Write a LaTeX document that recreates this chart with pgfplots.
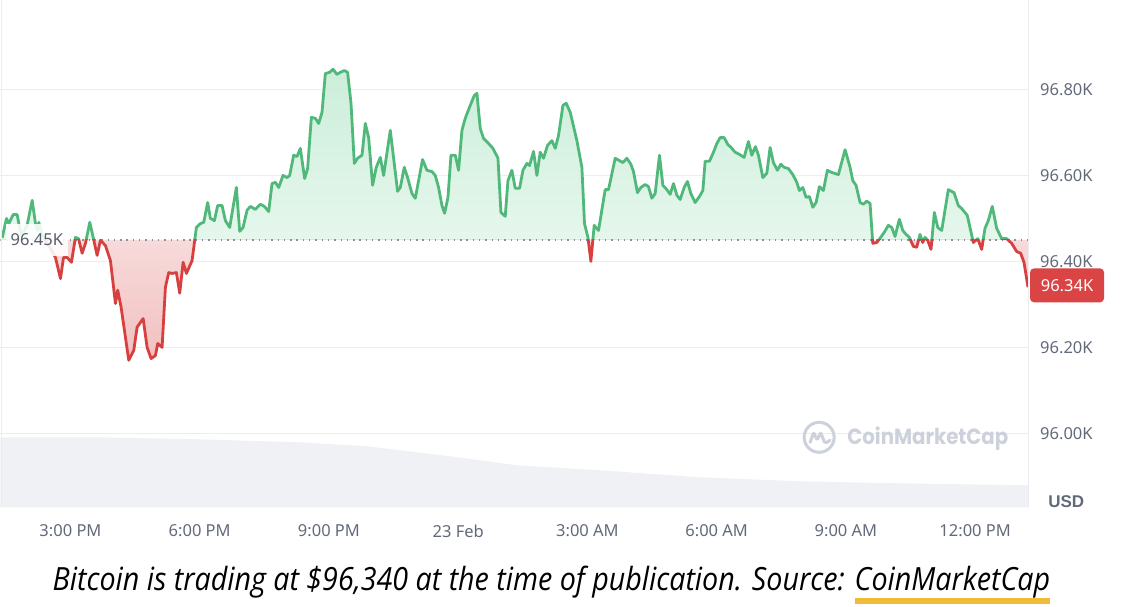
\documentclass[border=0pt]{standalone}
\usepackage{fontspec}
\usepackage{graphicx}
\usepackage{pgfplots}
\usepackage{pgfplotstable}
\pgfplotsset{compat=1.18}

\newfontfamily\tickfont{Noto Sans}
\newfontfamily\usdfont{Liberation Sans}
\newfontfamily\capfont{Open Sans}
\newfontfamily\wmfont{Poppins}
\newcommand\tf{\tickfont\fontsize{16.5bp}{19bp}\selectfont}

\definecolor{gline}{RGB}{80,184,122}
\definecolor{rline}{RGB}{216,64,64}
\definecolor{gtop}{RGB}{204,238,218}
\definecolor{gbot}{RGB}{248,253,250}
\definecolor{rbot}{RGB}{242,192,192}
\definecolor{gridc}{RGB}{236,237,241}
\definecolor{labc}{RGB}{98,106,122}
\definecolor{volc}{RGB}{240,241,245}
\definecolor{badgec}{RGB}{218,68,68}
\definecolor{wmc}{RGB}{204,209,220}
\definecolor{ulc}{RGB}{240,188,56}
\definecolor{dotc}{RGB}{140,145,155}

% time in hours from 22 Feb 00:00, price in USD
\pgfplotstableread{
t p
13.415 96455
13.515 96500
13.569 96488
13.671 96509
13.763 96509
13.801 96488
13.863 96460
13.933 96472
14.002 96488
14.111 96542
14.188 96488
14.234 96472
14.265 96491
14.327 96467
14.420 96449
14.536 96430
14.652 96409
14.768 96360
14.838 96409
14.923 96409
15.023 96398
15.116 96456
15.186 96453
15.271 96419
15.348 96442
15.448 96491
15.527 96456
15.619 96414
15.696 96449
15.812 96437
15.928 96402
16.044 96302
16.097 96333
16.176 96293
16.353 96170
16.469 96193
16.547 96247
16.687 96267
16.779 96200
16.872 96174
16.972 96181
17.025 96209
17.127 96200
17.204 96340
17.281 96374
17.359 96372
17.459 96374
17.536 96326
17.615 96398
17.691 96372
17.823 96402
17.923 96479
18.016 96488
18.093 96491
18.185 96537
18.248 96500
18.341 96495
18.417 96530
18.519 96530
18.596 96495
18.696 96479
18.851 96572
18.928 96470
19.007 96479
19.099 96519
19.176 96528
19.292 96521
19.408 96533
19.501 96528
19.601 96516
19.679 96581
19.756 96584
19.833 96572
19.935 96600
20.027 96595
20.088 96600
20.181 96647
20.259 96644
20.336 96663
20.436 96593
20.505 96616
20.591 96735
20.684 96733
20.761 96721
20.839 96747
20.916 96837
21.016 96840
21.095 96847
21.187 96835
21.264 96840
21.357 96844
21.433 96840
21.512 96768
21.589 96628
21.665 96640
21.767 96647
21.844 96721
21.921 96688
22.013 96577
22.099 96619
22.192 96642
22.269 96600
22.424 96705
22.593 96563
22.656 96572
22.749 96619
22.825 96595
22.927 96558
23.004 96547
23.081 96588
23.173 96637
23.275 96612
23.391 96609
23.468 96600
23.545 96572
23.623 96530
23.684 96512
23.763 96549
23.832 96647
23.932 96647
24.009 96612
24.087 96705
24.164 96733
24.280 96763
24.373 96786
24.435 96791
24.512 96709
24.589 96686
24.681 96677
24.807 96663
24.923 96640
24.992 96514
25.092 96505
25.155 96588
25.247 96612
25.324 96570
25.424 96570
25.503 96612
25.595 96628
25.656 96623
25.749 96656
25.827 96600
25.904 96654
25.981 96640
26.073 96670
26.175 96681
26.252 96663
26.329 96693
26.431 96763
26.507 96768
26.600 96747
26.755 96681
26.871 96619
26.932 96488
27.011 96456
27.080 96400
27.157 96484
27.257 96472
27.412 96567
27.489 96567
27.644 96640
27.823 96630
27.915 96640
28.008 96626
28.069 96609
28.161 96560
28.240 96572
28.340 96579
28.417 96574
28.495 96547
28.572 96558
28.672 96647
28.751 96577
28.843 96567
28.920 96556
28.997 96581
29.075 96554
29.152 96544
29.245 96572
29.321 96586
29.400 96558
29.500 96537
29.600 96551
29.679 96565
29.732 96633
29.832 96633
29.925 96654
30.003 96674
30.080 96688
30.173 96688
30.259 96672
30.335 96665
30.428 96654
30.528 96649
30.637 96642
30.737 96679
30.815 96647
30.899 96667
30.969 96647
31.071 96595
31.163 96605
31.240 96665
31.317 96630
31.409 96612
31.488 96626
31.565 96619
31.665 96616
31.767 96602
31.859 96584
31.920 96565
31.999 96572
32.075 96549
32.152 96551
32.231 96526
32.307 96537
32.384 96574
32.477 96565
32.569 96612
32.671 96607
32.825 96602
32.980 96660
33.096 96619
33.159 96588
33.235 96577
33.328 96537
33.405 96533
33.483 96540
33.560 96535
33.623 96442
33.715 96444
33.808 96456
33.885 96467
33.985 96484
34.063 96479
34.140 96458
34.240 96498
34.319 96472
34.395 96463
34.472 96456
34.565 96435
34.643 96433
34.720 96463
34.783 96444
34.836 96456
34.899 96449
34.975 96428
35.052 96514
35.131 96479
35.223 96472
35.377 96567
35.509 96560
35.609 96530
35.687 96523
35.817 96507
35.957 96444
36.059 96453
36.151 96428
36.228 96477
36.305 96495
36.397 96528
36.499 96477
36.615 96453
36.731 96453
36.847 96442
36.963 96423
37.056 96419
37.133 96398
37.226 96340
}\pricedata

% volume (relative units)
\pgfplotstableread{
t v
13.376 7.0
15.696 7.0
18.016 6.8
20.336 6.5
21.890 6.1
22.656 5.7
23.816 5.1
25.370 4.2
27.296 3.7
29.616 3.0
31.936 2.6
34.256 2.4
37.227 2.2
}\voldata

\begin{document}
\begin{tikzpicture}
\path (0,0) rectangle (1142bp,-606bp);

% volume
\begin{axis}[
  at={(0,0)}, anchor=north west,
  width=1028bp, height=507bp, scale only axis,
  xmin=13.376, xmax=37.227, ymin=0, ymax=50.7,
  hide axis,
]
\addplot[fill=volc, draw=none] table[x=t, y=v] {\voldata} \closedcycle;
\end{axis}

% price
\begin{axis}[
  at={(0,0)}, anchor=north west,
  width=1028bp, height=507bp, scale only axis,
  xmin=13.376, xmax=37.227, ymin=95828, ymax=97007,
  axis line style={draw=none},
  tick style={draw=none},
  scaled y ticks=false,
  ytick={96000,96200,96400,96600,96800},
  yticklabels={96.00K,96.20K,96.40K,96.60K,96.80K},
  yticklabel pos=right,
  ymajorgrids,
  major grid style={gridc, line width=1bp},
  xtick={15,18,21,24,27,30,33,36},
  xticklabels={3:00 PM,6:00 PM,9:00 PM,23 Feb,3:00 AM,6:00 AM,9:00 AM,12:00 PM},
  ticklabel style={font=\tf, text=labc},
  yticklabel style={anchor=west, inner sep=0pt, xshift=12bp},
  xticklabel style={inner sep=0pt, yshift=-17bp},
]
% green area above the open price, red area below
\begin{scope}
\clip (axis cs:13,96450) rectangle (axis cs:38,97100);
\addplot[draw=none, top color=gtop, bottom color=gbot] table[x=t, y=p] {\pricedata}
  -- (axis cs:37.226,96450) -- (axis cs:13.415,96450) -- cycle;
\end{scope}
\begin{scope}
\clip (axis cs:13,95700) rectangle (axis cs:38,96450);
\addplot[draw=none, top color=white, bottom color=rbot] table[x=t, y=p] {\pricedata}
  -- (axis cs:37.226,96450) -- (axis cs:13.415,96450) -- cycle;
\end{scope}

\addplot[dotc, line width=1.4bp, dash pattern=on 1.4bp off 4.9bp] coordinates {(13.376,96450) (37.227,96450)};

\begin{scope}
\clip (axis cs:13,96450) rectangle (axis cs:38,97100);
\addplot[gline, line width=2.8bp, line join=round] table[x=t, y=p] {\pricedata};
\end{scope}
\begin{scope}
\clip (axis cs:13,95700) rectangle (axis cs:38,96450);
\addplot[rline, line width=2.8bp, line join=round] table[x=t, y=p] {\pricedata};
\end{scope}
\end{axis}

% frame
\draw[gridc, line width=1bp] (1.5bp,0) -- (1.5bp,-507bp);
\draw[gridc, line width=1bp] (1028bp,0) -- (1028bp,-507bp);

% baseline label
\node[anchor=west, fill=white, fill opacity=0.88, text opacity=1, text={rgb,255:red,88;green,94;blue,108},
      inner xsep=5bp, inner ysep=0pt, minimum height=32bp, font=\tf] at (5bp,-239.5bp) {96.45K};

% current price badge
\node[fill=badgec, rounded corners=4bp, text=white, minimum width=74bp, minimum height=34bp,
      inner sep=0pt, font=\tf] at (1067bp,-285bp) {96.34K};

% currency
\node[anchor=west, text=labc, inner sep=0pt, font=\usdfont\bfseries\fontsize{17bp}{19bp}\selectfont] at (1048bp,-501bp) {USD};

% watermark
\begin{scope}[shift={(819bp,-437bp)}, wmc, line width=3bp, line cap=round, line join=round]
\draw (0,0) circle (15bp);
\draw[rounded corners=2bp] (-9bp,-5bp) -- (-5.5bp,5bp) -- (-2bp,-3bp) -- (1.5bp,5bp) -- (4.5bp,-3bp) .. controls (6bp,-6bp) and (9bp,-5bp) .. (11bp,-3bp);
\end{scope}
\node[anchor=west, inner sep=0pt, text=wmc] at (847bp,-438bp)
  {\resizebox{161bp}{\height}{\wmfont\bfseries\fontsize{22bp}{26bp}\selectfont CoinMarketCap}};

% caption
\node[anchor=base west, inner sep=0pt] at (52bp,-590bp)
  {\resizebox{998bp}{\height}{\capfont\itshape\fontsize{32bp}{36bp}\selectfont Bitcoin is trading at \$96,340 at the time of publication. Source: CoinMarketCap}};
\fill[ulc] (855bp,-598bp) rectangle (1050bp,-604bp);
\end{tikzpicture}
\end{document}
